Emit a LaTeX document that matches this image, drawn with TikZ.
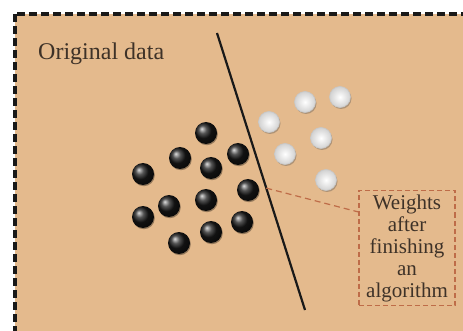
\documentclass[tikz,border=0pt]{standalone}
\usepackage{fontspec}
\setmainfont{Liberation Serif}
\usetikzlibrary{calc,shadows}
\begin{document}
\begin{tikzpicture}[x=1pt,y=-1pt,
  blackdot/.style={circle,minimum size=22pt,inner sep=0pt,shading=ball,ball color=black!90,
     drop shadow={shadow xshift=0.8pt,shadow yshift=-1.2pt,opacity=0.35,fill=black}},
  whitedot/.style={circle,minimum size=21pt,inner sep=0pt,shading=radial,inner color=white,outer color=white!82!black,draw=black!22,line width=0.6pt,
     drop shadow={shadow xshift=1pt,shadow yshift=-1.5pt,opacity=0.35,fill=black!70}},
  frameline/.style={draw=black!90,line width=3.8pt,dash pattern=on 8pt off 4pt},
  labelbox/.style={draw=boxred,line width=1.2pt,dash pattern=on 5pt off 3pt,
     align=center,font=\fontsize{21}{22}\selectfont,text=inkbrown,inner sep=0pt,
     minimum width=96pt,minimum height=115pt},
  connector/.style={draw=boxred,line width=1.2pt,dash pattern=on 6pt off 4pt}]
\definecolor{tan}{RGB}{228,186,141}
\definecolor{boxred}{RGB}{190,108,72}
\definecolor{inkbrown}{RGB}{62,50,40}
\useasboundingbox (0,0) rectangle (463,331);
\fill[white] (0,0) rectangle (463,331);
\begin{scope}
\clip (0,0) rectangle (463,331);
\fill[tan] (15,14) rectangle (480,334);
\draw[frameline] (15,14) rectangle (480,334);
\end{scope}
\node[anchor=base west,font=\fontsize{24}{26}\selectfont,text=inkbrown,inner sep=0pt] (title) at (38,60) {Original data};
\coordinate (l1) at (217,33);
\coordinate (l2) at (305,310);
\draw[line width=2.2pt,black!90] (l1) -- (l2);
% black dots
\foreach \n/\x/\y in {b1/206/133,b2/180/158,b3/211/168,b4/238/154,b5/143/174,b6/248/190,b7/206/200,b8/169/206,b9/143/217,b10/242/222,b11/211/232,b12/179/243}
  \node[blackdot] (\n) at (\x,\y) {};
% white dots
\foreach \n/\x/\y in {w1/305/102,w2/340/97,w3/269/122,w4/321/138,w5/285/154,w6/326/180}
  \node[whitedot] (\n) at (\x,\y) {};
\node[labelbox] (lab) at (407,248) {Weights\\after\\finishing\\an\\algorithm};
\coordinate (c1) at ($(l1)!0.56!(l2)$);
\coordinate (c2) at ($(lab.north west)!0.19!(lab.south west)$);
\draw[connector] (c1) -- (c2);
\end{tikzpicture}
\end{document}
